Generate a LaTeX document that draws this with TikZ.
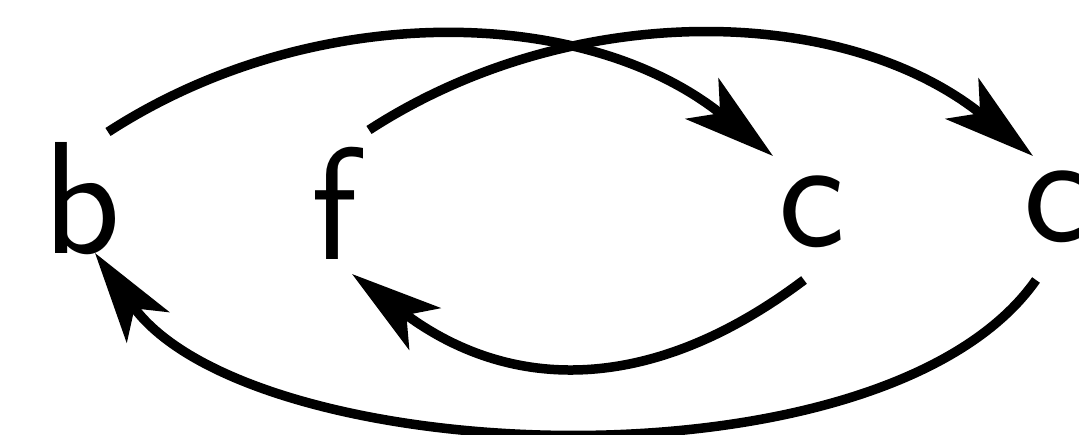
\documentclass[tikz,border=0pt]{standalone}
\usepackage{fontspec}
\usetikzlibrary{arrows.meta,calc}
\begin{document}
\begin{tikzpicture}[x=1pt,y=1pt,
  lbl/.style={font=\sffamily\fontsize{160}{160}\selectfont, inner sep=0pt, outer sep=0pt, anchor=base},
  edge/.style={line width=9.5pt, -{Stealth[length=91pt,width=52pt,inset=23pt]}}]
\useasboundingbox (0,0) rectangle (1079,434);
\node[lbl] (b) at (82,180) {b};
\node[lbl] (f) at (334,174) {f};
\node[lbl] (c1) at (812,187) {c};
\node[lbl] (c2) at (1057,192) {c};
\draw[edge] ($(b.base)+(26,122)$) to[out=33,in=141,looseness=0.93] ($(c1.base)+(-39,91)$);
\draw[edge] ($(f.base)+(35,130)$) to[out=33,in=141,looseness=0.93] ($(c2.base)+(-24,86)$);
\draw[edge] ($(c1.base)+(-8,-33)$) to[out=217,in=-37,looseness=1.1] ($(f.base)+(18,-14)$);
\draw[edge] ($(c2.base)+(-21,-38)$) to[out=235,in=-54.5,looseness=0.72] ($(b.base)+(13,1)$);
\end{tikzpicture}
\end{document}
